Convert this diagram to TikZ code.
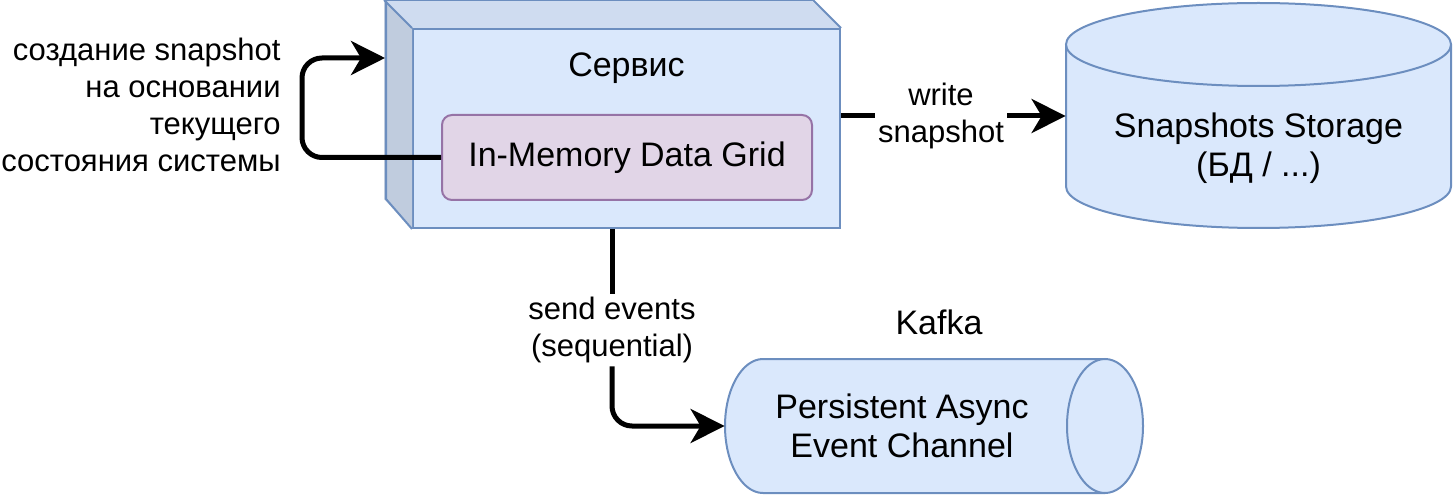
\documentclass[tikz,border=0pt]{standalone}
\usepackage{fontspec}
\setmainfont{Liberation Sans}
\usetikzlibrary{arrows.meta}
\definecolor{srvfill}{HTML}{DAE8FC}
\definecolor{srvline}{HTML}{6C8EBF}
\definecolor{srvtop}{HTML}{CFDCF0}
\definecolor{srvside}{HTML}{C0CCDE}
\definecolor{gridfill}{HTML}{E1D5E7}
\definecolor{gridline}{HTML}{9673A6}

\begin{document}
\begin{tikzpicture}[x=0.5pt, y=-0.5pt,
  every node/.style={font=\fontsize{17}{19.5}\selectfont},
  face/.style={draw=srvline, line width=1pt},
  box/.style={face, fill=srvfill, minimum width=213.5pt, minimum height=99.5pt},
  grid/.style={draw=gridline, fill=gridfill, line width=1pt, rounded corners=5pt, minimum width=185pt, minimum height=42.5pt},
  txt/.style={align=center, inner sep=0pt},
  lbl/.style={align=center, fill=white, inner sep=1.5pt, font=\fontsize{15.5}{18.5}\selectfont},
  line/.style={line width=2.5pt},
  arr/.style={line, -{Stealth[length=17pt, width=17pt, inset=5pt]}}
]
\useasboundingbox (0,0) rectangle (1455,497);

% Service box
\node[box] (srv) at (626.5,128.5) {};
\fill[srvtop] (srv.north west) -- ++(-28,-28) -- ++(427,0) -- (srv.north east) -- cycle;
\fill[srvside] (srv.north west) -- ++(-28,-28) -- ++(0,199) -- (srv.south west) -- cycle;
\draw[face, line join=round] (srv.north east) -- ++(-28,-28) -- ++(-427,0) -- ++(0,199) -- (srv.south west);
\draw[face] (srv.north west) -- ++(-28,-28);
\node (srvtitle) at (626.5,68) {Сервис};
\node[grid] (imdg) at (627,157.5) {In-Memory Data Grid};
\coordinate (srvin) at (385,58);

% Snapshots storage
\filldraw[face, fill=srvfill] (1066,44.5) -- (1066,186.5)
  arc[start angle=180, end angle=360, x radius=96.25pt, y radius=20.75pt] -- (1451,44.5);
\filldraw[face, fill=srvfill] (1258.5,44.5) ellipse[x radius=96.25pt, y radius=20.75pt];
\node[txt, minimum width=192.5pt] (snap) at (1258.5,148) {Snapshots Storage\\(БД / ...)};

% Kafka channel
\filldraw[face, fill=srvfill] (1105,359) -- (763,359)
  arc[start angle=90, end angle=270, x radius=19pt, y radius=33.5pt] -- (1105,493);
\filldraw[face, fill=srvfill] (1105,426) ellipse[x radius=19pt, y radius=33.5pt];
\node[txt, minimum width=177pt] (chan) at (902,426) {Persistent Async\\Event Channel};
\node (kafka) at (939,322) {Kafka};

% Labels
\node[lbl, fill=none, inner sep=0pt, align=right, anchor=east] (looplbl) at (281,105) {создание snapshot\\на основании\\текущего\\состояния системы};
\node[lbl] (wlbl) at (941,116) {write\\snapshot};
\node[lbl] (slbl) at (612,330) {send events\\(sequential)};

% Arrows
\draw[arr, rounded corners=10pt] (imdg.west) -- ++(-139,0) |- (srvin);
\draw[line] (srv.east |- wlbl) -- (wlbl);
\draw[arr] (wlbl) -- (snap.west |- wlbl);
\draw[line] (srv.south -| slbl) -- (slbl);
\draw[arr, rounded corners=10pt] (slbl) |- (chan.west);

\end{tikzpicture}
\end{document}
